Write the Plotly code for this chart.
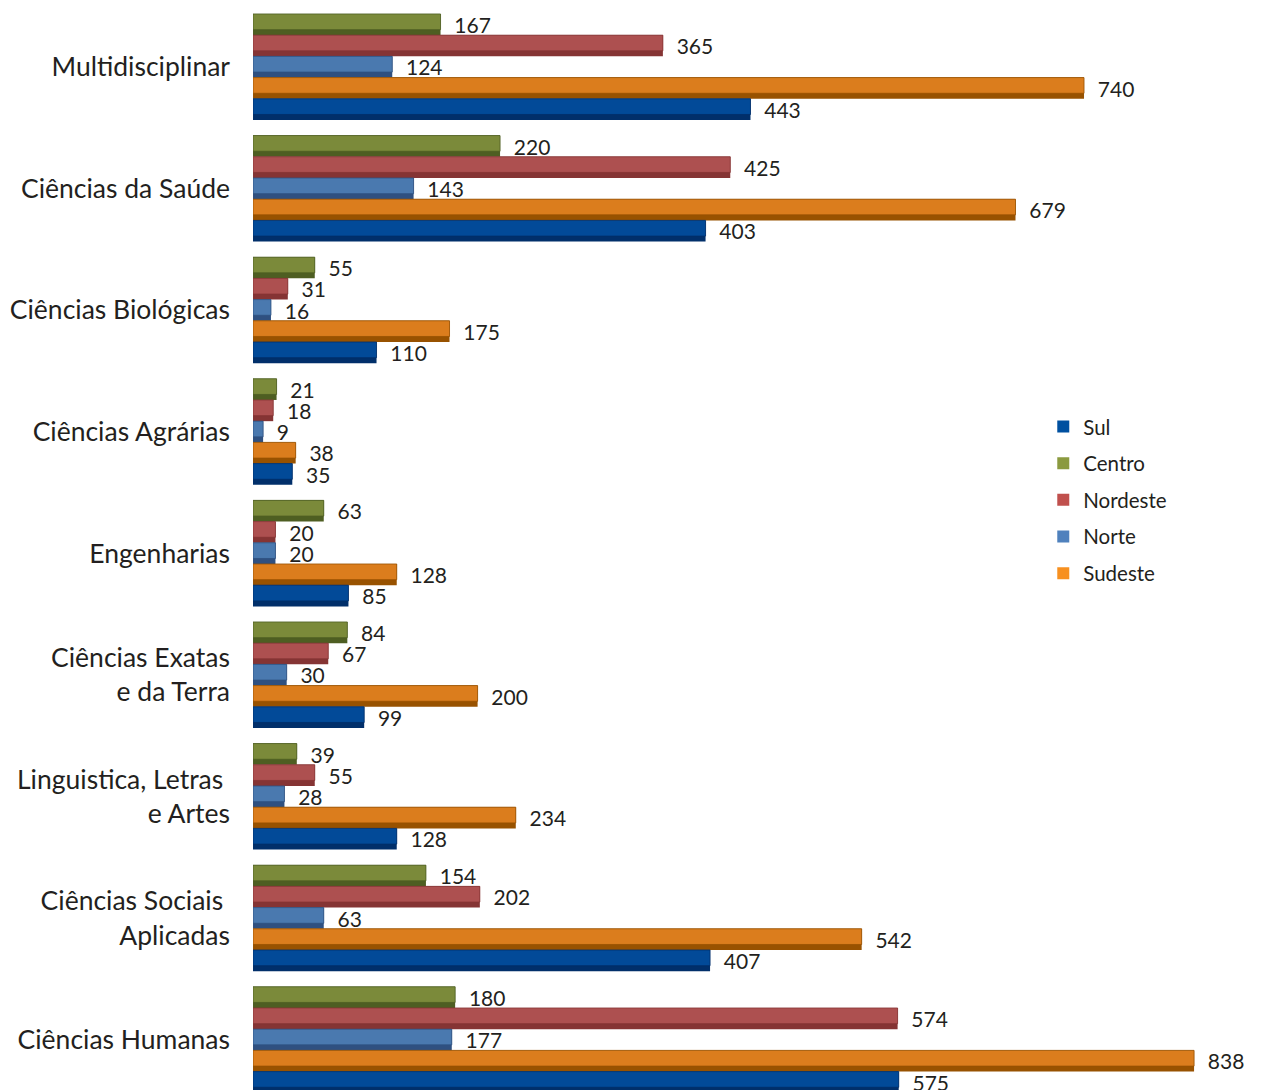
import plotly.graph_objects as go

categories = ["Multidisciplinar", "Ciências da Saúde", "Ciências Biológicas", "Ciências Agrárias",
              "Engenharias", "Ciências Exatas<br>e da Terra", "Linguistica, Letras\u00a0<br>e Artes",
              "Ciências Sociais\u00a0<br>Aplicadas", "Ciências Humanas"]
series_names = ["Centro", "Nordeste", "Norte", "Sudeste", "Sul"]
centro = [167, 220, 55, 21, 63, 84, 39, 154, 180]
nordeste = [365, 425, 31, 18, 20, 67, 55, 202, 574]
norte = [124, 143, 16, 9, 20, 30, 28, 63, 177]
sudeste = [740, 679, 175, 38, 128, 200, 234, 542, 838]
sul = [443, 403, 110, 35, 85, 99, 128, 407, 575]
values = [centro, nordeste, norte, sudeste, sul]

main_colors = ["#7B8A3A", "#AD5050", "#4A79AF", "#DB7D1D", "#024A98"]
dark_colors = ["#4E5E22", "#853434", "#2F5080", "#985200", "#012F6A"]
legend_colors = ["#8B9A3F", "#C0504D", "#4F81BD", "#F79020", "#0050A0"]
legend_rank = [2, 3, 4, 5, 1]

group_start = -0.436
bar_w = 0.1744
light_frac = 0.74

fig = go.Figure()
for i, name in enumerate(series_names):
    off = group_start + i * bar_w
    # dark full bar (bottom bevel) carrying the value label
    fig.add_trace(go.Bar(
        y=categories, x=values[i], orientation="h", name=name,
        offset=off, width=bar_w,
        marker=dict(color=dark_colors[i], line=dict(width=0)),
        texttemplate="\u00a0\u00a0%{x}", textposition="outside",
        constraintext="none", cliponaxis=False,
        textfont=dict(family="Lato", size=21, color="#231F20"),
        showlegend=False, legendgroup=name,
    ))
    # lighter top face
    fig.add_trace(go.Bar(
        y=categories, x=values[i], orientation="h", name=name,
        offset=off, width=bar_w * light_frac,
        marker=dict(color=main_colors[i], line=dict(width=0.8, color=dark_colors[i])),
        showlegend=False, legendgroup=name,
    ))
    # legend entry
    fig.add_trace(go.Bar(
        y=[None], x=[None], orientation="h", name=name,
        marker=dict(color=legend_colors[i], line=dict(width=0)),
        showlegend=True, legendgroup=name, legendrank=legend_rank[i],
    ))

fig.update_layout(
    width=1253, height=1082,
    margin=dict(l=245, r=0, t=0, b=0, autoexpand=False),
    barmode="overlay",
    plot_bgcolor="white", paper_bgcolor="white",
    font=dict(family="Lato", color="#231F20"),
    xaxis=dict(visible=False, range=[0, 897.6], automargin=False),
    yaxis=dict(type="category", categoryorder="array", categoryarray=categories,
               range=[8.413, -0.485], showgrid=False, zeroline=False, showline=False,
               ticks="", ticklabelstandoff=22, automargin=False,
               tickfont=dict(family="Lato", size=26.5, color="#231F20")),
    legend=dict(x=0.784, y=0.6315, xanchor="left", yanchor="top",
                font=dict(family="Lato", size=20.5, color="#231F20"),
                tracegroupgap=7, bgcolor="rgba(0,0,0,0)"),
    showlegend=True,
)

fig.write_html("out.html")
